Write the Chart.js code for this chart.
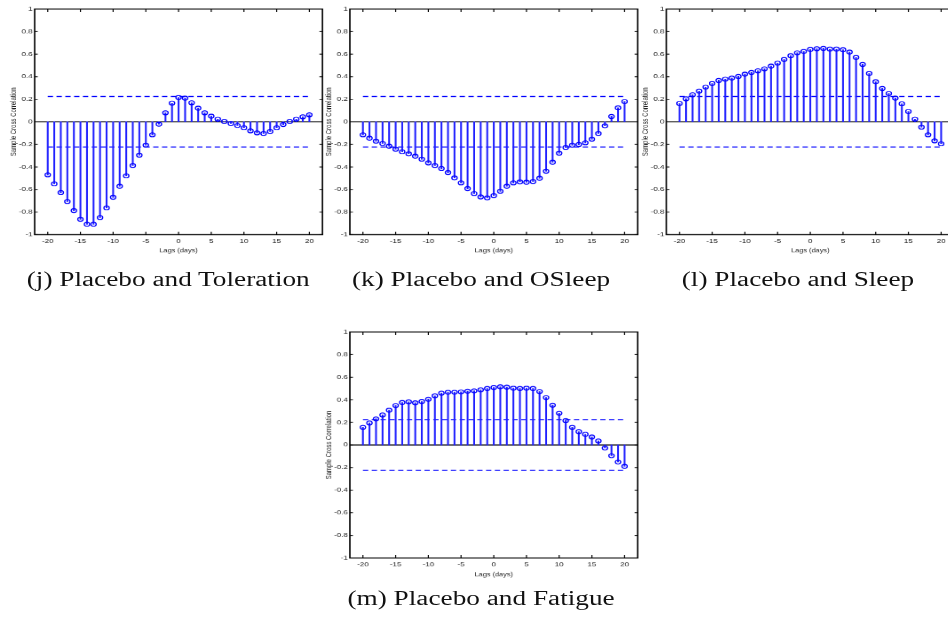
<!DOCTYPE html>
<html>
<head>
<meta charset="utf-8">
<script src="https://cdn.jsdelivr.net/npm/chart.js@4.4.1/dist/chart.umd.min.js"></script>
<style>
  html, body { margin:0; padding:0; background:#fff; overflow:hidden; width:948px; height:619px; }
  #fig { position:absolute; left:0; top:0; width:713px; height:619px; transform:scaleX(1.33); transform-origin:0 0; }
  .cv { position:absolute; }
  .cap { position:absolute; width:320px; text-align:center; font-family:"Liberation Serif","Times New Roman",serif; font-size:20.5px; line-height:20px; color:#111; white-space:nowrap; }
</style>
</head>
<body>
<div id="fig"></div>
<script>
// ---- data ----
const lags = [-20,-19,-18,-17,-16,-15,-14,-13,-12,-11,-10,-9,-8,-7,-6,-5,-4,-3,-2,-1,0,1,2,3,4,5,6,7,8,9,10,11,12,13,14,15,16,17,18,19,20];
const toleration = [-0.47,-0.55,-0.627,-0.707,-0.787,-0.864,-0.908,-0.908,-0.849,-0.763,-0.669,-0.571,-0.479,-0.388,-0.296,-0.207,-0.115,-0.021,0.08,0.166,0.216,0.21,0.169,0.121,0.08,0.05,0.024,0.003,-0.015,-0.033,-0.053,-0.08,-0.098,-0.104,-0.086,-0.053,-0.024,0.003,0.024,0.044,0.062];
const osleep = [-0.115,-0.145,-0.172,-0.192,-0.216,-0.243,-0.266,-0.284,-0.305,-0.331,-0.364,-0.388,-0.414,-0.45,-0.497,-0.541,-0.592,-0.636,-0.666,-0.675,-0.654,-0.615,-0.571,-0.541,-0.533,-0.536,-0.53,-0.5,-0.438,-0.358,-0.278,-0.228,-0.207,-0.201,-0.186,-0.154,-0.104,-0.036,0.047,0.124,0.18];
const sleep = [0.163,0.204,0.24,0.272,0.308,0.34,0.367,0.379,0.388,0.402,0.423,0.438,0.453,0.47,0.494,0.521,0.553,0.586,0.612,0.624,0.642,0.648,0.651,0.645,0.645,0.639,0.618,0.571,0.509,0.429,0.355,0.296,0.251,0.21,0.16,0.092,0.024,-0.047,-0.115,-0.169,-0.195];
const fatigue = [0.157,0.195,0.231,0.266,0.308,0.349,0.376,0.382,0.373,0.385,0.405,0.435,0.459,0.467,0.467,0.47,0.476,0.479,0.488,0.5,0.509,0.515,0.512,0.503,0.5,0.503,0.5,0.473,0.42,0.352,0.281,0.216,0.157,0.118,0.095,0.071,0.036,-0.027,-0.095,-0.151,-0.189];
const confBound = 0.224;
const xRange = [-22, 22];
const yRange = [-1, 1];
const xTicks = [-20,-15,-10,-5,0,5,10,15,20];
const yTicks = [-1,-0.8,-0.6,-0.4,-0.2,0,0.2,0.4,0.6,0.8,1];
const captions = ["(j) Placebo and Toleration","(k) Placebo and OSleep","(l) Placebo and Sleep","(m) Placebo and Fatigue"];
const yTitle = "Sample Cross Correlation";
const xTitle = "Lags (days)";

// ---- layout (internal, pre-stretch coordinates) ----
const panels = [
  { vals: toleration, cap: captions[0], box:{l:25.8, t:9,     r:241.1, b:234.3}, capX:126.5, capBase:286 },
  { vals: osleep,     cap: captions[1], box:{l:263.2,t:9,     r:478.9, b:234.3}, capX:361.7, capBase:286 },
  { vals: sleep,      cap: captions[2], box:{l:501.3,t:9,     r:717.3, b:234.3}, capX:600,   capBase:286 },
  { vals: fatigue,    cap: captions[3], box:{l:263.2,t:331.7, r:478.9, b:557.7}, capX:361.7, capBase:605 }
];

const BLUE = '#0000ff';
const STEM = 'rgb(30,30,255)';
const fmt = v => (Math.round(v*10)/10).toString();

const boxPlugin = {
  id: 'boxTicks',
  afterDatasetsDraw(chart) {
    const {ctx, chartArea:a} = chart;
    const x = chart.scales.x, y = chart.scales.y;
    ctx.save();
    ctx.strokeStyle = '#000';
    ctx.lineWidth = 1.1;
    ctx.strokeRect(a.left, a.top, a.right - a.left, a.bottom - a.top);
    ctx.lineWidth = 0.8;
    ctx.beginPath();
    xTicks.forEach(v => {
      const px = x.getPixelForValue(v);
      ctx.moveTo(px, a.bottom); ctx.lineTo(px, a.bottom - 3);
      ctx.moveTo(px, a.top); ctx.lineTo(px, a.top + 3);
    });
    yTicks.forEach(v => {
      const py = y.getPixelForValue(v);
      ctx.moveTo(a.left, py); ctx.lineTo(a.left + 2.3, py);
      ctx.moveTo(a.right, py); ctx.lineTo(a.right - 2.3, py);
    });
    ctx.stroke();
    ctx.restore();
  }
};

const fig = document.getElementById('fig');

panels.forEach(p => {
  const cvL = p.box.l - 28, cvT = p.box.t - 9;
  const cvW = (p.box.r - p.box.l) + 34, cvH = (p.box.b - p.box.t) + 30;
  const cv = document.createElement('canvas');
  cv.className = 'cv';
  cv.width = cvW; cv.height = cvH;
  cv.style.left = cvL + 'px'; cv.style.top = cvT + 'px';
  fig.appendChild(cv);

  const pts = lags.map((x, i) => ({x: x, y: p.vals[i]}));
  let pad = {left:0, top:0, right:0, bottom:0};
  const chart = new Chart(cv, {
    type: 'scatter',
    data: {
      datasets: [
        { type:'scatter', data: pts, pointStyle:'circle', pointRadius:2, pointBorderWidth:0.9,
          pointBackgroundColor:'rgba(255,255,255,0)', pointBorderColor:BLUE, order:0 },
        { type:'bar', data: pts, backgroundColor:STEM, borderWidth:0, barThickness:0.7, order:1 },
        { type:'line', data: xRange.map(x => ({x:x, y:0})), borderColor:'#000', borderWidth:1.1, pointRadius:0, order:2 },
        { type:'line', data: [{x:lags[0], y:confBound},{x:lags[lags.length-1], y:confBound}], borderColor:BLUE, borderWidth:1, borderDash:[4,2.6], pointRadius:0, order:3 },
        { type:'line', data: [{x:lags[0], y:-confBound},{x:lags[lags.length-1], y:-confBound}], borderColor:BLUE, borderWidth:1, borderDash:[4,2.6], pointRadius:0, order:3 }
      ]
    },
    options: {
      responsive:false, animation:false, devicePixelRatio:1.5,
      layout:{ padding: pad },
      plugins:{ legend:{display:false}, tooltip:{enabled:false} },
      scales:{
        x:{ type:'linear', min:xRange[0], max:xRange[1], offset:false,
            afterBuildTicks: s => { s.ticks = xTicks.map(v => ({value:v})); },
            grid:{ display:false, drawTicks:false }, border:{ display:false },
            ticks:{ callback: v => fmt(v), font:{family:'Liberation Sans', size:6}, color:'#222', padding:2.8, maxRotation:0, autoSkip:false },
            title:{ display:true, text:xTitle, font:{family:'Liberation Sans', size:5.5}, color:'#222', padding:{top:0.4, bottom:0} } },
        y:{ type:'linear', min:yRange[0], max:yRange[1],
            afterBuildTicks: s => { s.ticks = yTicks.map(v => ({value:v})); },
            grid:{ display:false, drawTicks:false }, border:{ display:false },
            ticks:{ callback: v => fmt(v), font:{family:'Liberation Sans', size:6}, color:'#222', padding:1.5, autoSkip:false },
            title:{ display:true, text:yTitle, font:{family:'Liberation Sans', size:6, lineHeight:1}, color:'#222', padding:{top:0, bottom:-0.8} } }
      }
    },
    plugins:[boxPlugin]
  });
  const T = {l:p.box.l - cvL, t:p.box.t - cvT, r:p.box.r - cvL, b:p.box.b - cvT};
  for (let k = 0; k < 3; k++) {
    const a = chart.chartArea;
    pad = { left: pad.left + (T.l - a.left), top: pad.top + (T.t - a.top),
            right: pad.right + (a.right - T.r), bottom: pad.bottom + (a.bottom - T.b) };
    chart.options.layout.padding = pad;
    chart.update('none');
  }

  const cap = document.createElement('div');
  cap.className = 'cap';
  cap.textContent = p.cap;
  cap.style.left = (p.capX - 160) + 'px';
  cap.style.top = (p.capBase - 16.75) + 'px';
  fig.appendChild(cap);
});
</script>
</body>
</html>
